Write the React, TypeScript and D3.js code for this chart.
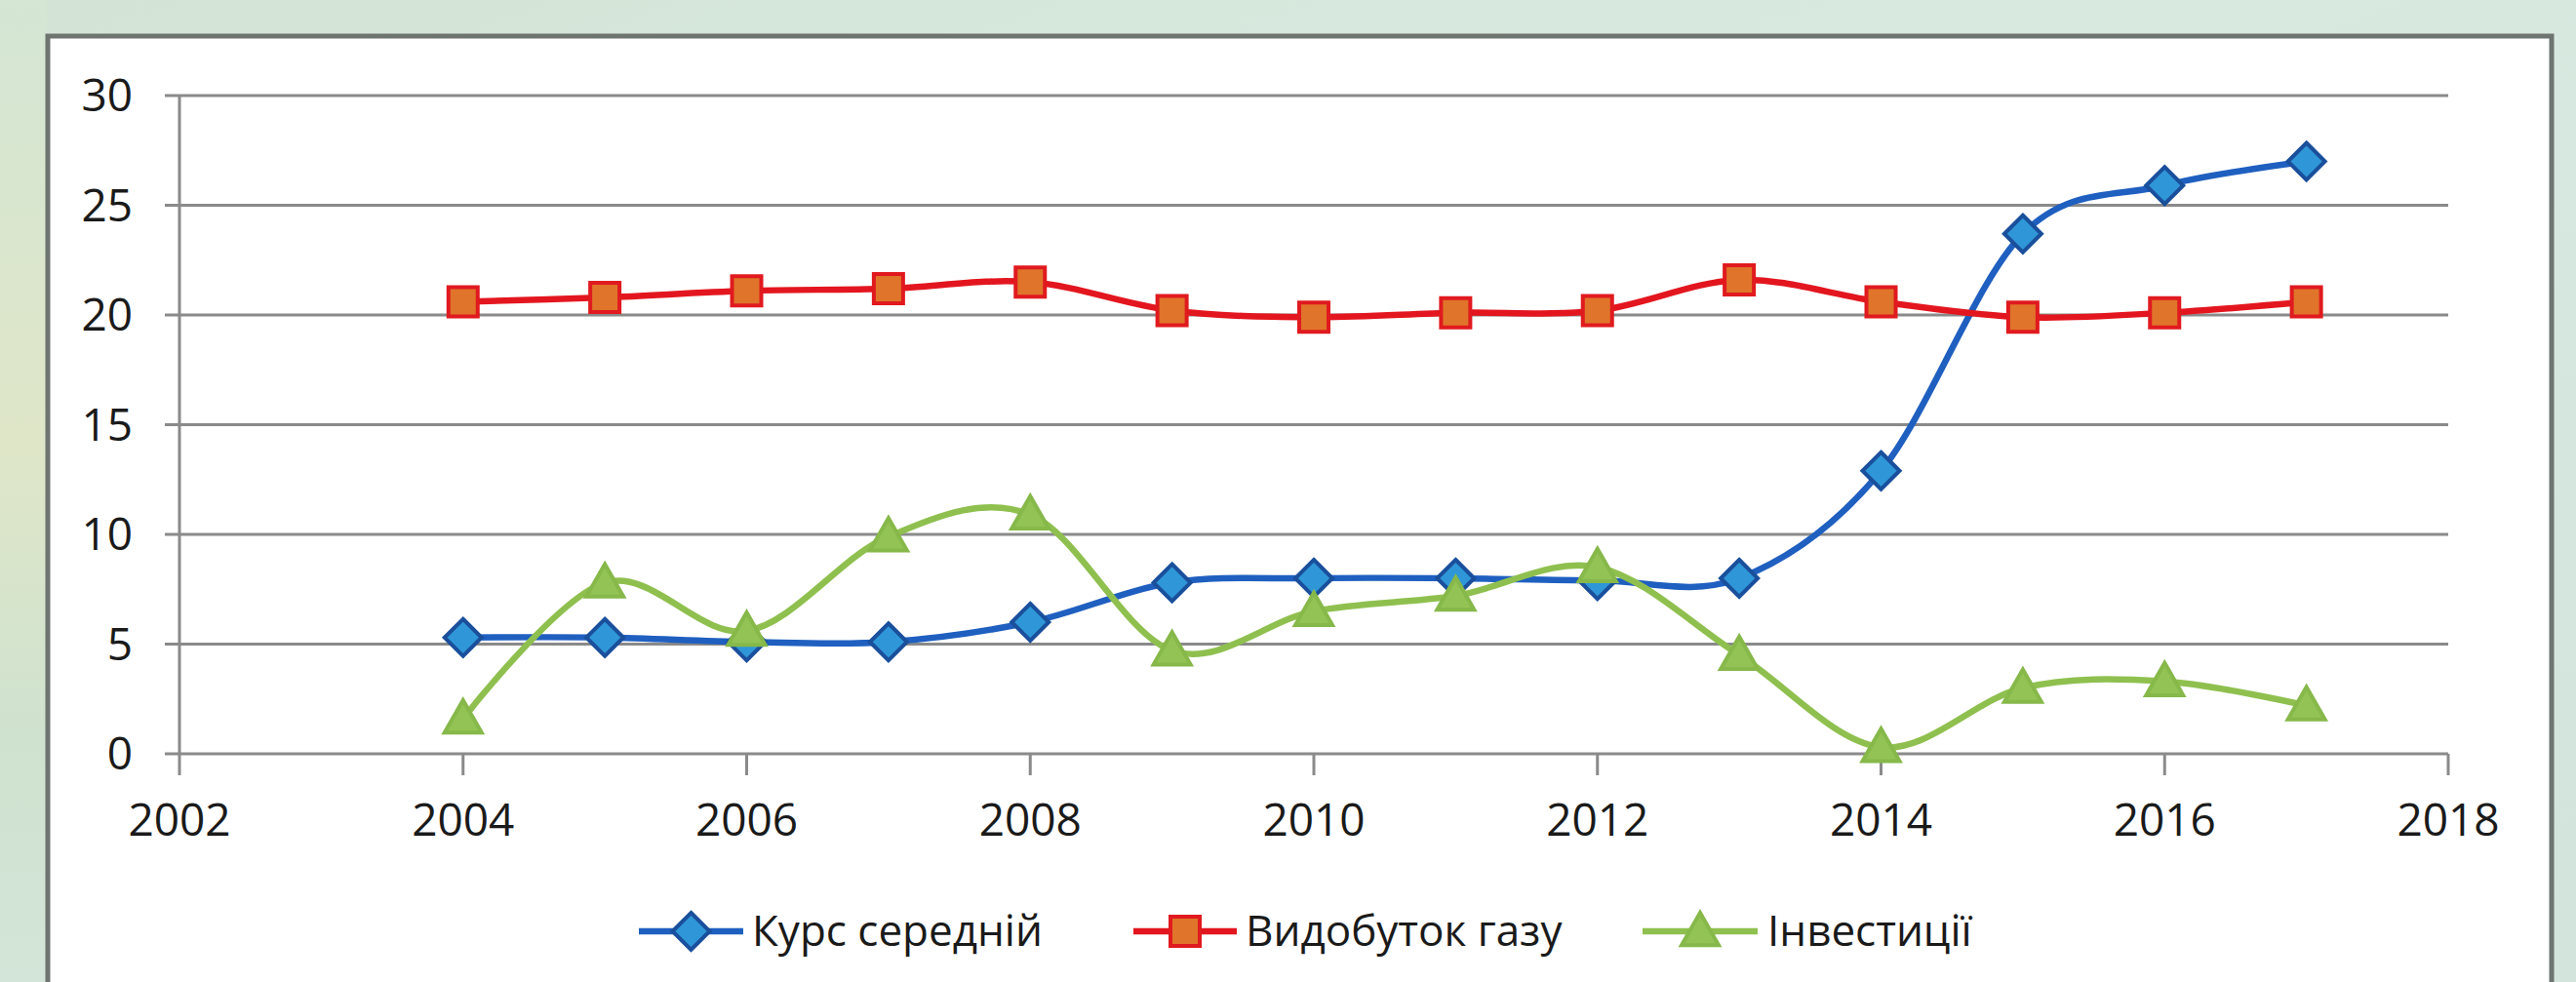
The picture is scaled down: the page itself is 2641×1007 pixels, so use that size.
import React, { useEffect } from 'react';
import * as d3 from 'd3';

// Values
const years = [2004, 2005, 2006, 2007, 2008, 2009, 2010, 2011, 2012, 2013, 2014, 2015, 2016, 2017];
const kurs = [5.3, 5.3, 5.1, 5.1, 6.0, 7.8, 8.0, 8.0, 7.9, 8.0, 12.9, 23.7, 25.9, 27.0];
const gas = [20.6, 20.8, 21.1, 21.2, 21.5, 20.2, 19.9, 20.1, 20.2, 21.6, 20.6, 19.9, 20.1, 20.6];
const invest = [1.6, 7.8, 5.6, 9.9, 10.9, 4.7, 6.5, 7.2, 8.5, 4.5, 0.3, 3.0, 3.3, 2.2];
const seriesNames = ['Курс середній', 'Видобуток газу', 'Інвестиції'];
const xTicks = [2002, 2004, 2006, 2008, 2010, 2012, 2014, 2016, 2018];
const yTicks = [0, 5, 10, 15, 20, 25, 30];

const W = 2641;
const H = 1007;
const FONT = '"Open Sans", "Noto Sans", sans-serif';

type Pt = { x: number; y: number };

const styles = [
  { line: '#1f5fc0', fill: '#2f97d8', stroke: '#1a4f9c', marker: 'diamond' },
  { line: '#e3161f', fill: '#e0742a', stroke: '#e01a1f', marker: 'square' },
  { line: '#8fc04f', fill: '#93c355', stroke: '#86b84a', marker: 'triangle' }
];

function markerPath(kind: string, cx: number, cy: number) {
  if (kind === 'diamond') {
    const r = 19;
    return `M${cx},${cy - r}L${cx + r},${cy}L${cx},${cy + r}L${cx - r},${cy}Z`;
  }
  if (kind === 'square') {
    const s = 15;
    return `M${cx - s},${cy - s}H${cx + s}V${cy + s}H${cx - s}Z`;
  }
  const h = 19;
  return `M${cx},${cy - h}L${cx + h},${cy + h * 0.75}L${cx - h},${cy + h * 0.75}Z`;
}

const App: React.FC = () => {
  useEffect(() => {
    document.body.style.margin = '0';
  }, []);

  const margin = { left: 184, right: W - 2510, top: 98, bottom: H - 773 };

  const x = d3.scaleLinear().domain([2002, 2018]).range([margin.left, W - margin.right]);
  const y = d3.scaleLinear().domain([0, 30]).range([H - margin.bottom, margin.top]);

  const line = d3.line<Pt>()
    .x(d => d.x)
    .y(d => d.y)
    .curve(d3.curveCardinal.tension(0));

  const allSeries = [kurs, gas, invest];

  // legend layout
  const legend = [
    { x0: 655, x1: 762, tx: 771 },
    { x0: 1162, x1: 1268, tx: 1277 },
    { x0: 1684, x1: 1802, tx: 1812 }
  ];
  const legendY = 955;

  return (
    <svg width={W} height={H} style={{ display: 'block', position: 'absolute', left: 0, top: 0 }}>
      <defs>
        <linearGradient id="bg" x1="0" y1="0" x2="1" y2="1">
          <stop offset="0%" stopColor="#d3e4d6" />
          <stop offset="40%" stopColor="#d8e9e0" />
          <stop offset="100%" stopColor="#d2e4dc" />
        </linearGradient>
        <linearGradient id="leftbg" x1="0" y1="0" x2="0" y2="1">
          <stop offset="0%" stopColor="#d4e6d4" />
          <stop offset="45%" stopColor="#dfe6c8" />
          <stop offset="75%" stopColor="#cfe2cf" />
          <stop offset="100%" stopColor="#d3e5d8" />
        </linearGradient>
      </defs>
      <rect x={0} y={0} width={W} height={H} fill="url(#bg)" />
      <rect x={0} y={0} width={48} height={H} fill="url(#leftbg)" />

      {/* chart box */}
      <rect x={49} y={37} width={2567} height={H} fill="#ffffff" stroke="#6e7470" strokeWidth={5} />

      {/* gridlines */}
      {yTicks.map(t => (
        <line key={`g${t}`} x1={x(2002) - 15} x2={x(2018)} y1={y(t)} y2={y(t)}
          stroke="#8a8a8a" strokeWidth={3} />
      ))}
      {/* y axis */}
      <line x1={x(2002)} x2={x(2002)} y1={y(30)} y2={y(0)} stroke="#8a8a8a" strokeWidth={3} />
      {/* x tick marks */}
      {xTicks.map(t => (
        <line key={`xt${t}`} x1={x(t)} x2={x(t)} y1={y(0)} y2={y(0) + 22}
          stroke="#8a8a8a" strokeWidth={3} />
      ))}

      {/* y tick labels */}
      {yTicks.map(t => (
        <text key={`yl${t}`} x={x(2002) - 48} y={y(t)} dy="0.35em" textAnchor="end"
          fontFamily={FONT} fontSize={46} fill="#1a1a1a">{t}</text>
      ))}
      {/* x tick labels */}
      {xTicks.map(t => (
        <text key={`xl${t}`} x={x(t)} y={y(0) + 84} textAnchor="middle"
          fontFamily={FONT} fontSize={46} fill="#1a1a1a">{t}</text>
      ))}

      {/* series lines */}
      {allSeries.map((vals, i) => {
        const pts = vals.map((v, j) => ({ x: x(years[j]), y: y(v) }));
        return (
          <path key={`l${i}`} d={line(pts) || ''} fill="none" stroke={styles[i].line}
            strokeWidth={6.5} strokeLinejoin="round" strokeLinecap="round" />
        );
      })}
      {/* markers */}
      {allSeries.map((vals, i) => (
        <g key={`m${i}`}>
          {vals.map((v, j) => (
            <path key={j} d={markerPath(styles[i].marker, x(years[j]), y(v))}
              fill={styles[i].fill} stroke={styles[i].stroke} strokeWidth={4} strokeLinejoin="miter" />
          ))}
        </g>
      ))}

      {/* legend */}
      {legend.map((l, i) => (
        <g key={`lg${i}`}>
          <line x1={l.x0} x2={l.x1} y1={legendY} y2={legendY} stroke={styles[i].line} strokeWidth={6.5} />
          <path d={markerPath(styles[i].marker, (l.x0 + l.x1) / 2, legendY)}
            fill={styles[i].fill} stroke={styles[i].stroke} strokeWidth={4} />
          <text x={l.tx} y={legendY} dy="0.35em" fontFamily={FONT} fontSize={44} fill="#1a1a1a">
            {seriesNames[i]}
          </text>
        </g>
      ))}
    </svg>
  );
};

export default App;
